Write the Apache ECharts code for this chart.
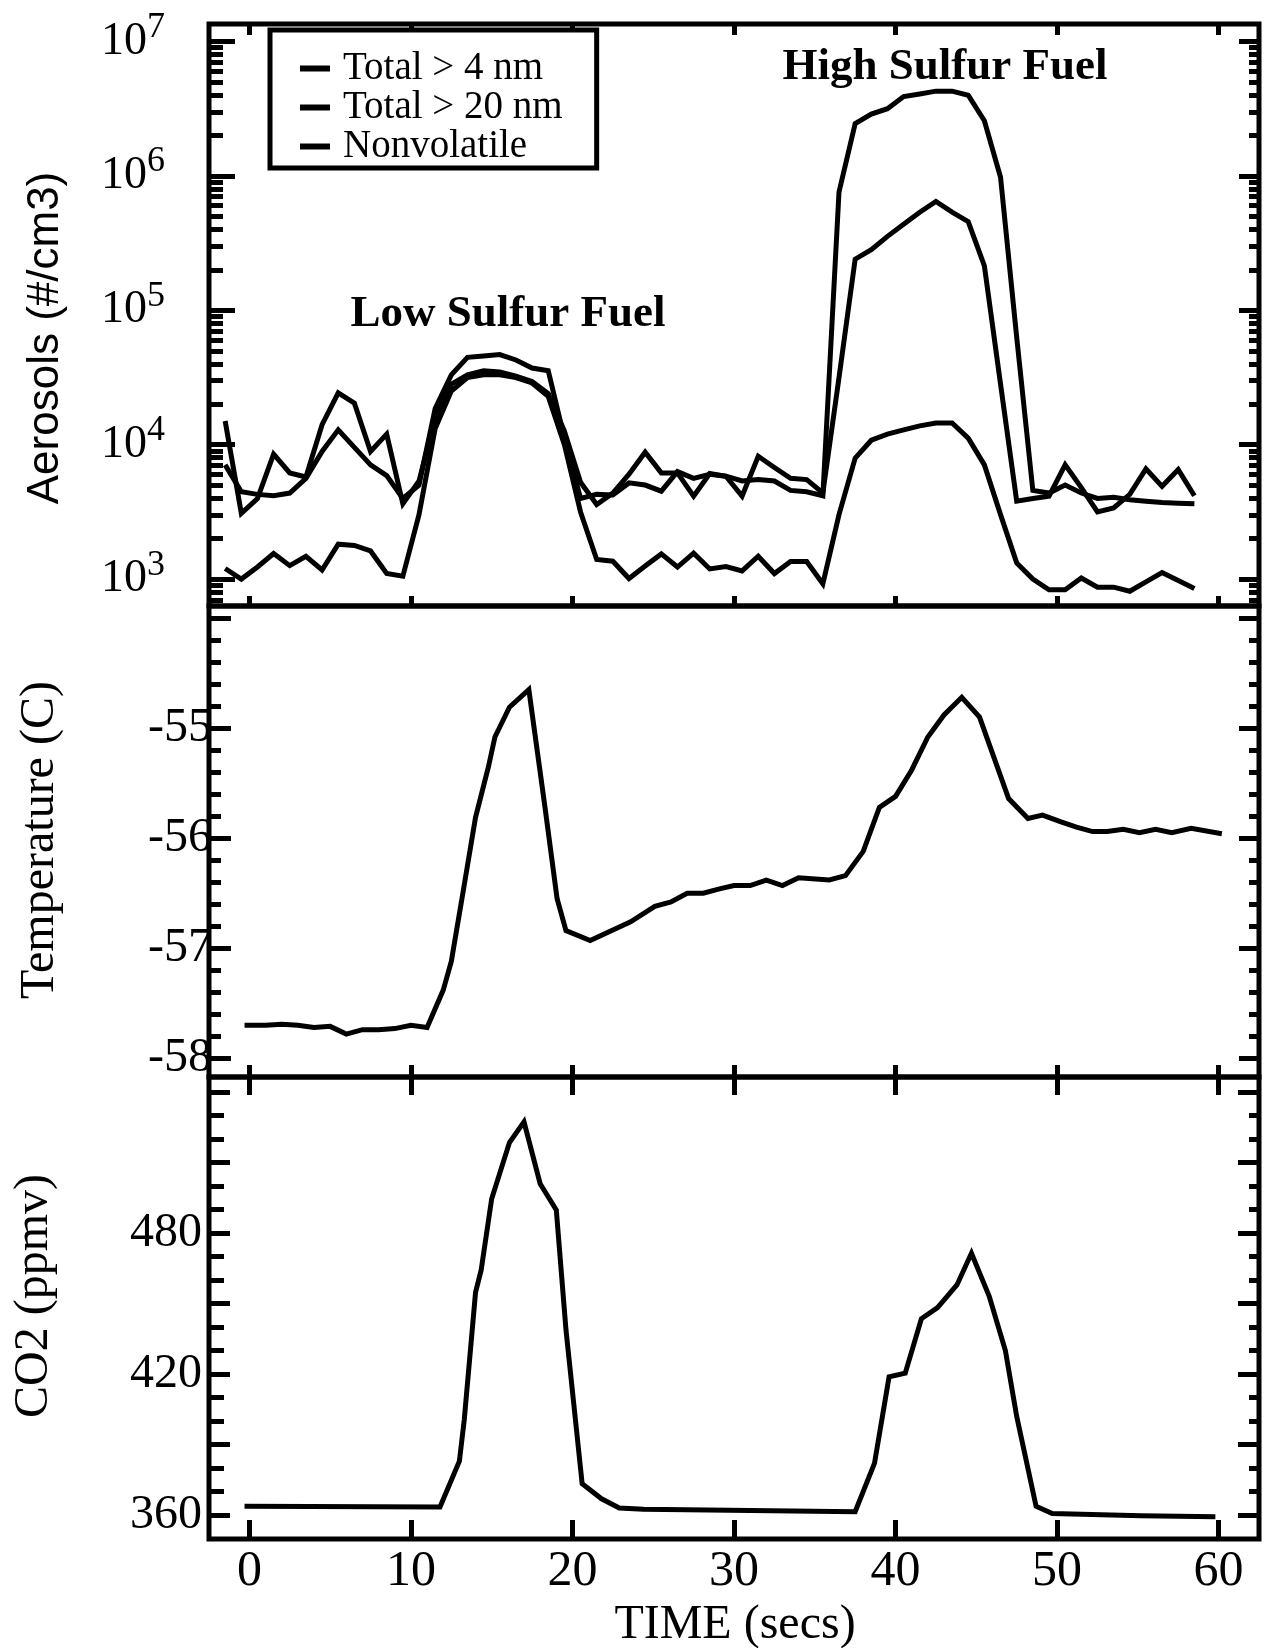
<!DOCTYPE html>
<html>
<head>
<meta charset="utf-8">
<script src="https://cdn.jsdelivr.net/npm/echarts@6/dist/echarts.min.js"></script>
<style>
html,body{margin:0;padding:0;background:#fff;}
#chart{width:1271px;height:1648px;}
</style>
</head>
<body>
<div id="chart"></div>
<script>
// ---------------- DATA ----------------
const aerosolTime = [-1.5,-0.5,0.5,1.5,2.5,3.5,4.5,5.5,6.5,7.5,8.5,9.5,10.5,11.5,12.5,13.5,14.5,15.5,16.5,17.5,18.5,19.5,20.5,21.5,22.5,23.5,24.5,25.5,26.5,27.5,28.5,29.5,30.5,31.5,32.5,33.5,34.5,35.5,36.5,37.5,38.5,39.5,40.5,41.5,42.5,43.5,44.5,45.5,46.5,47.5,48.5,49.5,50.5,51.5,52.5,53.5,54.5,55.5,56.5,57.5,58.5];
const total4nm = [7080,4470,4270,4170,4370,5620,8910,12900,9550,7080,5890,3980,5010,18600,33100,44700,45700,46800,42700,37200,35500,11200,3980,4270,4220,5200,5010,4510,6310,5620,6030,5830,5370,5500,5370,4570,4470,4170,759000,2450000,2880000,3160000,3890000,4070000,4270000,4270000,3980000,2570000,977000,63100,4570,4370,5010,4370,3980,4070,3890,3800,3720,3670,3630];
const total20nm = [15000,3090,3980,8510,6170,5750,14100,24300,20400,8910,12000,3630,5370,15800,28200,33100,35500,34700,32400,29500,24000,12600,5250,3590,4370,6030,8790,6170,6170,4140,6100,5830,4140,8200,6760,5620,5500,4370,31600,240000,282000,355000,437000,537000,646000,537000,457000,214000,28200,3800,3980,4140,7080,4790,3160,3390,4270,6610,4900,6530,4170];
const nonvolatile = [1200,1000,1230,1550,1260,1480,1170,1820,1780,1620,1100,1050,3020,13200,25100,31600,33100,33100,31600,28800,22900,10000,3160,1400,1360,1010,1250,1540,1230,1560,1190,1240,1150,1480,1100,1350,1350,923,3020,7940,10800,12000,12900,13800,14500,14500,11200,7080,3020,1320,1000,832,832,1020,871,871,813,955,1120,977,851];

const tempTime = [-0.3,1,2,3,4,5,6,7,8,9,10,11,12,12.5,13.25,14,14.8,15.2,16.1,17.3,18.3,19.05,19.6,21.1,22.4,23.6,25.1,26.1,27.1,28.1,29.1,30,31,32,33,34,35.9,36.9,38,39,40,41,42,43,44.1,45.2,47,48.2,49.1,50.2,51.2,52.2,53.1,54.1,55.1,56.1,57.1,58.3,60.2];
const tempValues = [-57.70,-57.70,-57.69,-57.70,-57.72,-57.71,-57.78,-57.74,-57.74,-57.73,-57.70,-57.72,-57.38,-57.12,-56.47,-55.81,-55.35,-55.08,-54.81,-54.65,-55.72,-56.55,-56.84,-56.93,-56.84,-56.76,-56.62,-56.58,-56.50,-56.50,-56.46,-56.43,-56.43,-56.38,-56.43,-56.36,-56.38,-56.34,-56.12,-55.72,-55.62,-55.38,-55.08,-54.88,-54.72,-54.90,-55.64,-55.82,-55.79,-55.85,-55.90,-55.94,-55.94,-55.92,-55.95,-55.92,-55.95,-55.91,-55.96];

const co2Time = [-0.3,11.8,13.0,13.3,14.0,14.35,15.0,16.1,17.0,18.0,19.0,19.6,20.6,21.8,22.9,24.4,37.5,38.7,39.6,40.6,41.6,42.6,43.8,44.7,45.8,46.8,47.5,48.7,49.7,55.2,59.8];
const co2Values = [363.7,363.4,382.9,400.4,454.7,464.3,494.6,518.5,527.3,501.0,489.8,438.7,373.3,366.9,363.0,362.5,361.4,382.1,418.8,420.4,443.5,448.3,457.9,471.4,453.1,430.0,402.0,363.7,360.6,359.7,359.3];

// ticks / labels
const timeTicks = [0,10,20,30,40,50,60];
const aerosolMajorTicks = [1e3,1e4,1e5,1e6,1e7];
const aerosolMinorTicks = [700,800,900,2e3,3e3,4e3,5e3,6e3,7e3,8e3,9e3,2e4,3e4,4e4,5e4,6e4,7e4,8e4,9e4,2e5,3e5,4e5,5e5,6e5,7e5,8e5,9e5,2e6,3e6,4e6,5e6,6e6,7e6,8e6,9e6];
const tempLabelTicks = [-58,-57,-56,-55];
const tempMajorTicks = [-58,-57,-56,-55,-54];
const tempMinorTicks = [-57.8,-57.6,-57.4,-57.2,-56.8,-56.6,-56.4,-56.2,-55.8,-55.6,-55.4,-55.2,-54.8,-54.6,-54.4,-54.2];
const co2LabelTicks = [360,420,480];
const co2MajorTicks = [360,390,420,450,480,510,540];
const co2MinorTicks = [370,380,400,410,430,440,460,470,490,500,520,530];

const seriesNames = ['Total > 4 nm','Total > 20 nm','Nonvolatile'];

// ---------------- CHART ----------------
const SERIF = '"Liberation Serif", "Times New Roman", serif';
const SANS = '"Liberation Sans", Arial, sans-serif';
const X_MIN = -2.5, X_MAX = 62.5;
const AER_MIN = 631, AER_MAX = 1.349e7;
const T_MIN = -58.17, T_MAX = -53.89;
const C_MIN = 349.8, C_MAX = 546.4;
const LW = 5;

function makeX(gridIndex, position, tickLen, withLabels) {
  return {
    type: 'value', gridIndex: gridIndex, position: position, min: X_MIN, max: X_MAX,
    axisLine: { show: false, onZero: false },
    axisTick: { show: true, inside: true, length: tickLen, customValues: timeTicks,
                lineStyle: { color: '#000', width: LW } },
    axisLabel: withLabels ? { show: true, customValues: timeTicks, margin: 8, color: '#000',
                              fontFamily: SERIF, fontSize: 50 } : { show: false },
    splitLine: { show: false }
  };
}
function makeY(gridIndex, position, type, min, max, ticks, tickLen, label) {
  const ax = {
    type: type, gridIndex: gridIndex, position: position, min: min, max: max,
    axisLine: { show: false, onZero: false },
    axisTick: { show: true, inside: true, length: tickLen, customValues: ticks,
                lineStyle: { color: '#000', width: LW } },
    axisLabel: label || { show: false },
    splitLine: { show: false }
  };
  if (type === 'log') ax.logBase = 10;
  return ax;
}
const valueLabel = (vals, margin) => ({ show: true, customValues: vals, margin: margin, color: '#000',
                                        fontFamily: SERIF, fontSize: 48 });
const logLabel = {
  show: true, customValues: aerosolMajorTicks, margin: 44,
  formatter: v => '{b|10}{s|' + Math.round(Math.log10(v)) + '}',
  rich: {
    b: { fontFamily: SERIF, fontSize: 46, color: '#000' },
    s: { fontFamily: SERIF, fontSize: 36, color: '#000', padding: [0, 0, 28, 0] }
  }
};

function lineSeries(name, xi, yi, data) {
  return {
    name: name, type: 'line', xAxisIndex: xi, yAxisIndex: yi, data: data,
    showSymbol: false, symbol: 'none', silent: true, clip: true,
    lineStyle: { color: '#000', width: LW, join: 'miter', miterLimit: 4 },
    itemStyle: { color: '#000' }
  };
}

const gridBase = { left: 209, right: 12, show: true, borderColor: '#000', borderWidth: LW,
                   backgroundColor: 'transparent', containLabel: false, outerBoundsMode: 'none' };

const option = {
  animation: false,
  backgroundColor: '#fff',
  textStyle: { fontFamily: SERIF, color: '#000' },
  grid: [
    Object.assign({}, gridBase, { top: 24, height: 582 }),
    Object.assign({}, gridBase, { top: 606, height: 471 }),
    Object.assign({}, gridBase, { top: 1077, height: 462 })
  ],
  xAxis: [
    makeX(0, 'bottom', 10, false),
    makeX(0, 'top', 11, false),
    makeX(1, 'bottom', 12, false),
    makeX(2, 'top', 18, false),
    makeX(2, 'bottom', 19, true)
  ],
  yAxis: [
    makeY(0, 'left', 'log', AER_MIN, AER_MAX, aerosolMajorTicks, 26, logLabel),
    makeY(0, 'left', 'log', AER_MIN, AER_MAX, aerosolMinorTicks, 14),
    makeY(0, 'right', 'log', AER_MIN, AER_MAX, aerosolMajorTicks, 20),
    makeY(0, 'right', 'log', AER_MIN, AER_MAX, aerosolMinorTicks, 10),
    makeY(1, 'left', 'value', T_MIN, T_MAX, tempMajorTicks, 22, valueLabel(tempLabelTicks, -3)),
    makeY(1, 'left', 'value', T_MIN, T_MAX, tempMinorTicks, 12),
    makeY(1, 'right', 'value', T_MIN, T_MAX, tempMajorTicks, 20),
    makeY(1, 'right', 'value', T_MIN, T_MAX, tempMinorTicks, 10),
    makeY(2, 'left', 'value', C_MIN, C_MAX, co2MajorTicks, 21, valueLabel(co2LabelTicks, 7)),
    makeY(2, 'left', 'value', C_MIN, C_MAX, co2MinorTicks, 15),
    makeY(2, 'right', 'value', C_MIN, C_MAX, co2MajorTicks, 21),
    makeY(2, 'right', 'value', C_MIN, C_MAX, co2MinorTicks, 10)
  ],
  legend: {
    show: true, data: seriesNames, left: 270, top: 30, orient: 'vertical', selectedMode: false,
    icon: 'rect', itemWidth: 30, itemHeight: 6, itemGap: 0,
    padding: [19, 34, 2, 30],
    borderColor: '#000', borderWidth: 5, backgroundColor: '#fff',
    textStyle: { fontFamily: SERIF, fontSize: 39, color: '#000', lineHeight: 37, padding: [0, 0, 0, 8] }
  },
  series: [
    lineSeries(seriesNames[0], 0, 0, aerosolTime.map((t, i) => [t, total4nm[i]])),
    lineSeries(seriesNames[1], 0, 0, aerosolTime.map((t, i) => [t, total20nm[i]])),
    lineSeries(seriesNames[2], 0, 0, aerosolTime.map((t, i) => [t, nonvolatile[i]])),
    lineSeries('Temperature', 2, 4, tempTime.map((t, i) => [t, tempValues[i]])),
    lineSeries('CO2', 4, 8, co2Time.map((t, i) => [t, co2Values[i]]))
  ],
  graphic: [
    { type: 'text', x: 46, y: 338, rotation: Math.PI / 2,
      style: { text: 'Aerosols (#/cm3)', fontFamily: SANS, fontSize: 44, fill: '#000',
               align: 'center', verticalAlign: 'middle', textAlign: 'center', textVerticalAlign: 'middle' } },
    { type: 'text', x: 40, y: 840, rotation: Math.PI / 2,
      style: { text: 'Temperature (C)', fontFamily: SERIF, fontSize: 48, fill: '#000',
               align: 'center', verticalAlign: 'middle', textAlign: 'center', textVerticalAlign: 'middle' } },
    { type: 'text', x: 34, y: 1296, rotation: Math.PI / 2,
      style: { text: 'CO2 (ppmv)', fontFamily: SERIF, fontSize: 48, fill: '#000',
               align: 'center', verticalAlign: 'middle', textAlign: 'center', textVerticalAlign: 'middle' } },
    { type: 'text', x: 735, y: 1625,
      style: { text: 'TIME (secs)', fontFamily: SERIF, fontSize: 48, fill: '#000',
               align: 'center', verticalAlign: 'middle', textAlign: 'center', textVerticalAlign: 'middle' } },
    { type: 'text', x: 508, y: 314,
      style: { text: 'Low Sulfur Fuel', fontFamily: SERIF, fontWeight: 'bold', fontSize: 45, fill: '#000',
               align: 'center', verticalAlign: 'middle', textAlign: 'center', textVerticalAlign: 'middle' } },
    { type: 'text', x: 945, y: 67,
      style: { text: 'High Sulfur Fuel', fontFamily: SERIF, fontWeight: 'bold', fontSize: 45, fill: '#000',
               align: 'center', verticalAlign: 'middle', textAlign: 'center', textVerticalAlign: 'middle' } }
  ]
};

const chart = echarts.init(document.getElementById('chart'), null, { renderer: 'canvas' });
chart.setOption(option);
</script>
</body>
</html>
